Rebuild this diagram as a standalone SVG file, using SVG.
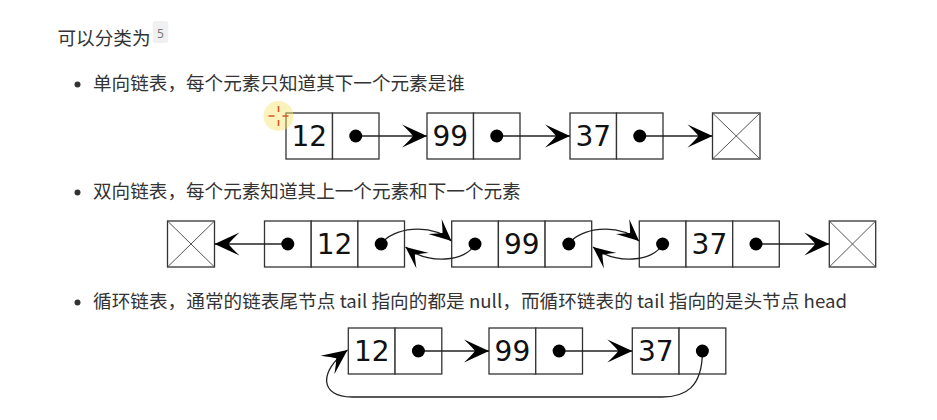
<svg xmlns="http://www.w3.org/2000/svg" width="937" height="420" viewBox="0 0 937 420">
<style>
.t{font-family:"Noto Sans CJK SC","Noto Sans",sans-serif;font-size:18.6px;fill:#333}
.num{font-family:"DejaVu Sans",sans-serif;font-size:28px;fill:#111;text-anchor:middle}
.box{fill:#fff;stroke:#333;stroke-width:1.3}
.x{stroke:#555;stroke-width:1}
.dot{fill:#000}
.ln{fill:none;stroke:#222;stroke-width:1.3}
.bul{fill:#333}
</style>
<defs>
<marker id="big" markerUnits="userSpaceOnUse" viewBox="-27 -13 30 26" markerWidth="30" markerHeight="26" refX="0" refY="0" orient="auto">
<path d="M0,0 L-25,-11.5 Q-17,-4 -14,0 Q-17,4 -25,11.5 Z" fill="#000"/>
</marker>
<marker id="small" markerUnits="userSpaceOnUse" viewBox="-24 -12 26 24" markerWidth="26" markerHeight="24" refX="0" refY="0" orient="auto">
<path d="M0,0 L-22,-10 Q-15,-3.5 -12,0 Q-15,3.5 -22,10 Z" fill="#000"/>
</marker>
</defs>
<rect width="937" height="420" fill="#fff"/>

<g id="texts">
<text class="t" x="57.5" y="45">可以分类为</text>
<rect x="152.7" y="21" width="15.6" height="22" rx="3" fill="#f0f0f0"/>
<text x="160.5" y="37.5" font-family="Noto Sans,sans-serif" font-size="12" fill="#777" text-anchor="middle">5</text>
<circle class="bul" cx="77.5" cy="84.5" r="3"/>
<text class="t" x="93" y="90">单向链表，每个元素只知道其下一个元素是谁</text>
<circle class="bul" cx="77.5" cy="192.5" r="3"/>
<text class="t" x="93" y="198">双向链表，每个元素知道其上一个元素和下一个元素</text>
<circle class="bul" cx="77.5" cy="302.5" r="3"/>
<text class="t" x="93" y="308" textLength="754" lengthAdjust="spacing">循环链表，通常的链表尾节点 tail 指向的都是 null，而循环链表的 tail 指向的是头节点 head</text>
</g>

<!-- Row 1: singly linked list -->
<g id="s1">
<rect class="box" x="286" y="113" width="46.5" height="46"/>
<rect class="box" x="332.5" y="113" width="46.5" height="46"/>
<text class="num" x="309.3" y="146.2">12</text>
</g>
<g id="s2">
<rect class="box" x="427" y="113" width="46.5" height="46"/>
<rect class="box" x="473.5" y="113" width="46.5" height="46"/>
<text class="num" x="450.3" y="146.2">99</text>
</g>
<g id="s3">
<rect class="box" x="570" y="113" width="46.5" height="46"/>
<rect class="box" x="616.5" y="113" width="46.5" height="46"/>
<text class="num" x="593.3" y="146.2">37</text>
</g>
<g id="snull">
<rect class="box" x="712.5" y="113" width="47.5" height="46"/>
<line class="x" x1="712.5" y1="113" x2="760" y2="159"/>
<line class="x" x1="760" y1="113" x2="712.5" y2="159"/>
</g>

<!-- Row 2: doubly linked list -->
<g id="dnullL">
<rect class="box" x="167.5" y="221" width="47" height="46"/>
<line class="x" x1="167.5" y1="221" x2="214.5" y2="267"/>
<line class="x" x1="214.5" y1="221" x2="167.5" y2="267"/>
</g>
<g id="d1">
<rect class="box" x="264.5" y="221" width="46.7" height="46"/>
<rect class="box" x="311.2" y="221" width="46.7" height="46"/>
<rect class="box" x="357.9" y="221" width="46.6" height="46"/>
<text class="num" x="334.6" y="254.2">12</text>
</g>
<g id="d2">
<rect class="box" x="451.7" y="221" width="46.7" height="46"/>
<rect class="box" x="498.4" y="221" width="46.7" height="46"/>
<rect class="box" x="545.1" y="221" width="46.6" height="46"/>
<text class="num" x="521.8" y="254.2">99</text>
</g>
<g id="d3">
<rect class="box" x="639.3" y="221" width="46.7" height="46"/>
<rect class="box" x="686" y="221" width="46.7" height="46"/>
<rect class="box" x="732.7" y="221" width="46.6" height="46"/>
<text class="num" x="709.4" y="254.2">37</text>
</g>
<g id="dnullR">
<rect class="box" x="829.3" y="221" width="46.4" height="46"/>
<line class="x" x1="829.3" y1="221" x2="875.7" y2="267"/>
<line class="x" x1="875.7" y1="221" x2="829.3" y2="267"/>
</g>

<!-- Row 3: circular linked list -->
<g id="c1">
<rect class="box" x="348.3" y="328" width="46.75" height="46"/>
<rect class="box" x="395.05" y="328" width="46.75" height="46"/>
<text class="num" x="371.7" y="361.2">12</text>
</g>
<g id="c2">
<rect class="box" x="489" y="328" width="46.75" height="46"/>
<rect class="box" x="535.75" y="328" width="46.75" height="46"/>
<text class="num" x="512.4" y="361.2">99</text>
</g>
<g id="c3">
<rect class="box" x="632.3" y="328" width="46.75" height="46"/>
<rect class="box" x="679.05" y="328" width="46.75" height="46"/>
<text class="num" x="655.7" y="361.2">37</text>
</g>

<g id="connectors">
<!-- row 1 -->
<path class="ln" d="M355.75,136 L427,136" marker-end="url(#big)"/>
<path class="ln" d="M496.75,136 L570,136" marker-end="url(#big)"/>
<path class="ln" d="M639.75,136 L712.5,136" marker-end="url(#big)"/>
<!-- row 2 -->
<path class="ln" d="M287.8,244 L214.5,244" marker-end="url(#big)"/>
<path class="ln" d="M756,244 L829.3,244" marker-end="url(#big)"/>
<path class="ln" d="M381.2,244 C392,228 430,222 451.5,241" marker-end="url(#small)"/>
<path class="ln" d="M475,244 C466,262 428,265 405.5,247" marker-end="url(#small)"/>
<path class="ln" d="M568.8,244 C579.6,228 617.6,222 639.1,241" marker-end="url(#small)"/>
<path class="ln" d="M662.6,244 C653.6,262 615.6,265 593,247" marker-end="url(#small)"/>
<!-- row 3 -->
<path class="ln" d="M418.4,351 L489,351" marker-end="url(#big)"/>
<path class="ln" d="M559.1,351 L632.3,351" marker-end="url(#big)"/>
<path class="ln" d="M702.4,351 C702.4,388 685,397 662,397 L352,397 C320,397 318,372 347.5,350" marker-end="url(#big)"/>
</g>

<g id="dots">
<circle class="dot" cx="355.75" cy="136" r="6.5"/>
<circle class="dot" cx="496.75" cy="136" r="6.5"/>
<circle class="dot" cx="639.75" cy="136" r="6.5"/>
<circle class="dot" cx="287.8" cy="244" r="6.5"/>
<circle class="dot" cx="381.2" cy="244" r="6.5"/>
<circle class="dot" cx="475" cy="244" r="6.5"/>
<circle class="dot" cx="568.8" cy="244" r="6.5"/>
<circle class="dot" cx="662.6" cy="244" r="6.5"/>
<circle class="dot" cx="756" cy="244" r="6.5"/>
<circle class="dot" cx="418.4" cy="351" r="6.5"/>
<circle class="dot" cx="559.1" cy="351" r="6.5"/>
<circle class="dot" cx="702.4" cy="351" r="6.5"/>
</g>

<g id="cursor">
<circle cx="278.5" cy="116" r="15" fill="#f7e36a" opacity="0.45"/>
<path d="M278.5,106 V112 M278.5,120 V126 M268.5,116 H274.5 M282.5,116 H288.5" stroke="#d8572a" stroke-width="1.6" fill="none"/>
</g>
</svg>
